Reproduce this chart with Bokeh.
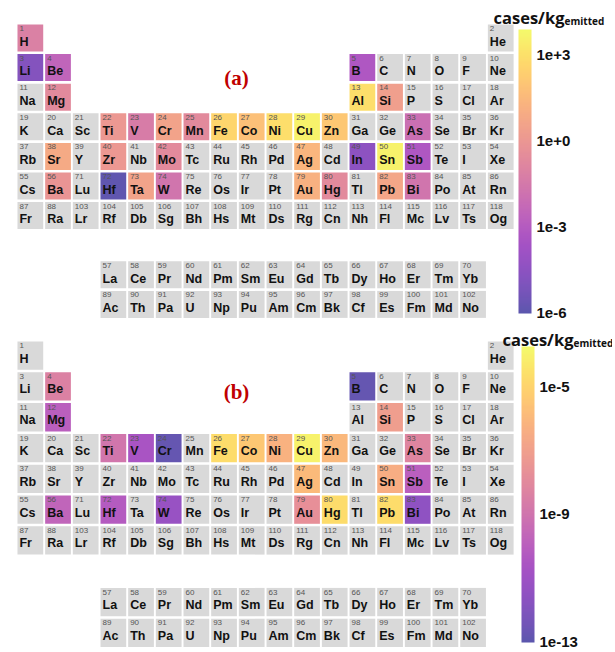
import numpy as np
from bokeh.plotting import figure
from bokeh.models import (ColumnDataSource, LinearColorMapper, ColorBar,
                          FixedTicker, Label, Range1d)
from bokeh.layouts import column
from bokeh.palettes import Plasma256
from bokeh.transform import transform
from bokeh.core.properties import value
from bokeh.embed import file_html
from bokeh.resources import INLINE

# ---------------- data ----------------
symbols = ["H", "He", "Li", "Be", "B", "C", "N", "O", "F", "Ne",
           "Na", "Mg", "Al", "Si", "P", "S", "Cl", "Ar",
           "K", "Ca", "Sc", "Ti", "V", "Cr", "Mn", "Fe", "Co", "Ni", "Cu", "Zn",
           "Ga", "Ge", "As", "Se", "Br", "Kr",
           "Rb", "Sr", "Y", "Zr", "Nb", "Mo", "Tc", "Ru", "Rh", "Pd", "Ag", "Cd",
           "In", "Sn", "Sb", "Te", "I", "Xe",
           "Cs", "Ba", "La", "Ce", "Pr", "Nd", "Pm", "Sm", "Eu", "Gd", "Tb", "Dy",
           "Ho", "Er", "Tm", "Yb", "Lu", "Hf", "Ta", "W", "Re", "Os", "Ir", "Pt",
           "Au", "Hg", "Tl", "Pb", "Bi", "Po", "At", "Rn",
           "Fr", "Ra", "Ac", "Th", "Pa", "U", "Np", "Pu", "Am", "Cm", "Bk", "Cf",
           "Es", "Fm", "Md", "No", "Lr", "Rf", "Db", "Sg", "Bh", "Hs", "Mt", "Ds",
           "Rg", "Cn", "Nh", "Fl", "Mc", "Lv", "Ts", "Og"]

# panel (a): log10(cases/kg emitted)
a_elements = ["H", "Li", "Be", "Mg", "B", "Al", "Si", "Ti", "V", "Cr", "Mn",
              "Fe", "Co", "Ni", "Cu", "Zn", "Sr", "Zr", "Mo", "Ag", "In", "Sn",
              "Sb", "As", "Ba", "Hf", "Ta", "W", "Au", "Hg", "Pb", "Bi"]
a_log10 = [-1.1, -4.8, -2.5, -0.6, -3.2, 2.9, 0.4, 0.1, -1.3, 0.6, -0.6,
           2.6, 1.8, 2.9, 3.6, 2.1, 0.9, 0.1, -0.6, 1.4, -4.5, 3.6,
           -3.2, -2.0, -0.1, -5.9, 0.6, -1.7, 1.2, -0.6, 0.7, -1.7]
a_ticks = [-6, -3, 0, 3]
a_tick_labels = ["1e-6", "1e-3", "1e+0", "1e+3"]
a_low, a_high = -6.02, 3.9

# panel (b): log10(cases/kg emitted)
b_elements = ["Be", "Mg", "B", "Si", "Ti", "V", "Cr", "Fe", "Co", "Ni", "Cu",
              "Zn", "Ag", "As", "Sn", "Sb", "Ba", "Hf", "W", "Au", "Hg", "Pb", "Bi"]
b_log10 = [-8.4, -10.0, -12.8, -7.1, -8.9, -10.6, -12.8, -4.7, -5.4, -6.2, -4.0,
           -6.0, -5.9, -8.2, -6.4, -10.0, -9.7, -10.2, -11.2, -7.7, -4.7, -4.7, -11.5]
b_ticks = [-13, -9, -5]
b_tick_labels = ["1e-13", "1e-9", "1e-5"]
b_low, b_high = -13.02, -3.73

title_main = "cases/kg"
title_sub = "emitted"


def position(z):
    if z == 1: return 1, 1
    if z == 2: return 18, 1
    if z <= 4: return z - 2, 2
    if z <= 10: return z + 8, 2
    if z <= 12: return z - 10, 3
    if z <= 18: return z, 3
    if z <= 36: return z - 18, 4
    if z <= 54: return z - 36, 5
    if z <= 56: return z - 54, 6
    if z <= 70: return z - 53, 9
    if z == 71: return 3, 6
    if z <= 86: return z - 68, 6
    if z <= 88: return z - 86, 7
    if z <= 102: return z - 85, 10
    if z == 103: return 3, 7
    return z - 100, 7


def blend(hexcol, alpha=0.68):
    r = int(hexcol[1:3], 16); g = int(hexcol[3:5], 16); b = int(hexcol[5:7], 16)
    f = lambda c: int(round(alpha * c + (1 - alpha) * 255))
    return "#%02x%02x%02x" % (f(r), f(g), f(b))


palette = [blend(c) for c in Plasma256]

CELL_W = 0.93
FIG_W = 612


def panel(height, yr, cell_h, elements, logs, low, high, ticks, tick_labels,
          cb_loc, cb_h, tag, tag_y, tx, ty, sx, sy, num_dy, sym_dy):
    vals = dict(zip(elements, logs))
    cols, rows, v, nums = [], [], [], []
    for i, s in enumerate(symbols):
        c, r = position(i + 1)
        cols.append(c); rows.append(r)
        v.append(vals.get(s, np.nan))
        nums.append(str(i + 1))
    cols = np.array(cols, dtype=float)
    src = ColumnDataSource(dict(x=cols, xl=cols - CELL_W / 2, y=rows,
                                v=np.array(v, dtype=float), sym=symbols, num=nums))
    mapper = LinearColorMapper(palette=palette, low=low, high=high, nan_color="#d9d9d9")

    p = figure(width=FIG_W, height=height, x_range=Range1d(-0.0788, 22.039), y_range=yr,
               x_axis_type=None, y_axis_type=None, toolbar_location=None, tools="",
               output_backend="svg", min_border=0, outline_line_color=None,
               background_fill_color="white", border_fill_color="white")
    p.rect(x="x", y="y", width=CELL_W, height=cell_h, source=src,
           fill_color=transform("v", mapper), line_color=None)
    p.text(x="xl", y="y", text="num", source=src, x_offset=2, y_offset=num_dy,
           text_baseline="top", text_align="left", text_font_size="8px",
           text_font=value("Liberation Sans"), text_color="#555555")
    p.text(x="xl", y="y", text="sym", source=src, x_offset=2, y_offset=sym_dy,
           text_baseline="alphabetic", text_align="left", text_font_size="12.5px",
           text_font=value("Liberation Sans"), text_font_style="bold",
           text_color="#111111")

    p.add_layout(Label(x=8.45, y=tag_y, text=tag, text_align="center",
                       text_baseline="middle", text_font="Liberation Serif",
                       text_font_style="bold", text_font_size="21px",
                       text_color="#c00000"))
    p.add_layout(Label(x=tx, y=ty, text=title_main, text_baseline="alphabetic",
                       text_font="Open Sans", text_font_style="bold",
                       text_font_size="16.5px", text_color="#111111"))
    p.add_layout(Label(x=sx, y=sy, text=title_sub, text_baseline="alphabetic",
                       text_font="Open Sans", text_font_style="bold",
                       text_font_size="10px", text_color="#111111"))

    cb = ColorBar(color_mapper=mapper, ticker=FixedTicker(ticks=ticks),
                  major_label_overrides={t: l for t, l in zip(ticks, tick_labels)},
                  width=13, height=cb_h, location=cb_loc, padding=0,
                  label_standoff=5, major_tick_line_color=None,
                  minor_tick_line_color=None, bar_line_color=None,
                  background_fill_alpha=0, border_line_color=None,
                  major_label_text_font="Liberation Sans",
                  major_label_text_font_style="bold",
                  major_label_text_font_size="15px",
                  major_label_text_color="#111111")
    p.add_layout(cb)
    return p


pa = panel(322, Range1d(10.6115, -0.2669), 0.912, a_elements, a_log10, a_low, a_high,
           a_ticks, a_tick_labels, (518, 9), 284, "(a)", 2.368,
           17.738, 0.2973, 20.305, 0.4257, -12, 3.8)
pb = panel(328, Range1d(10.573, -0.0763), 0.919, b_elements, b_log10, b_low, b_high,
           b_ticks, b_tick_labels, (521, 8), 296, "(b)", 2.164,
           18.064, 0.4756, 20.63, 0.6055, -12.5, 3.0)

layout = column(pa, pb, spacing=0)
open("out.html", "w").write(file_html(layout, INLINE))
